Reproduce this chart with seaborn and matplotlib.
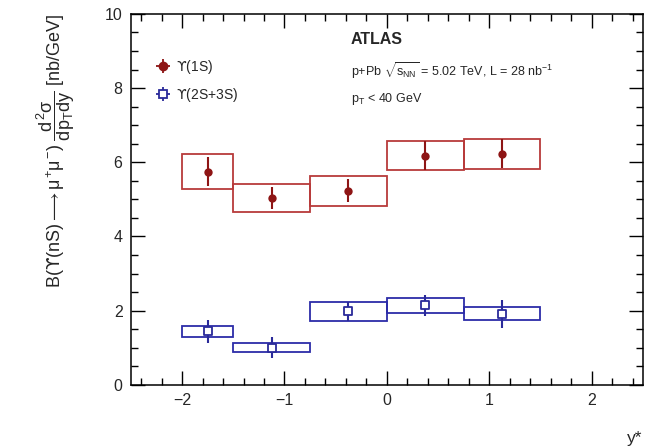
import numpy as np
import pandas as pd
import matplotlib.pyplot as plt
import matplotlib.ticker as ticker
import seaborn as sns

# bin edges in y* and measured values
bin_lo = [-2.0, -1.5, -0.75, 0.0, 0.75]
bin_hi = [-1.5, -0.75, 0.0, 0.75, 1.5]
ystar = [-1.75, -1.125, -0.375, 0.375, 1.125]

ups1s = [5.75, 5.04, 5.23, 6.18, 6.23]
ups1s_stat = [0.40, 0.30, 0.31, 0.38, 0.39]
ups1s_syst = [0.48, 0.38, 0.40, 0.40, 0.40]

ups23s = [1.44, 1.00, 1.98, 2.14, 1.92]
ups23s_stat = [0.32, 0.28, 0.25, 0.28, 0.38]
ups23s_syst = [0.15, 0.125, 0.25, 0.20, 0.17]

df = pd.DataFrame(
    {
        "lo": bin_lo,
        "hi": bin_hi,
        "ystar": ystar,
        "s1": ups1s,
        "s1_stat": ups1s_stat,
        "s1_syst": ups1s_syst,
        "s23": ups23s,
        "s23_stat": ups23s_stat,
        "s23_syst": ups23s_syst,
    }
)
df["width"] = df["hi"] - df["lo"]

sns.set_theme(style="ticks")
plt.rcParams["font.family"] = ["Liberation Sans", "DejaVu Sans"]
plt.rcParams["mathtext.fontset"] = "custom"
plt.rcParams["mathtext.rm"] = "Liberation Sans"
plt.rcParams["mathtext.it"] = "Liberation Sans"
plt.rcParams["mathtext.sf"] = "DejaVu Sans"  # for the upsilon-with-hook glyph

UPS = "$\\mathsf{\u03d2}$"

red_box = "#b83a3a"
red_pt = "#8e1515"
blue_box = "#2c2ca8"
blue_pt = "#2a2a9a"

fig, ax = plt.subplots(figsize=(6.48, 4.48), dpi=100)
fig.subplots_adjust(left=0.202, right=0.992, bottom=0.141, top=0.969)

# systematic boxes
ax.bar(
    df["lo"], 2 * df["s1_syst"], width=df["width"], bottom=df["s1"] - df["s1_syst"],
    align="edge", fill=False, edgecolor=red_box, linewidth=1.3, zorder=2,
)
ax.bar(
    df["lo"], 2 * df["s23_syst"], width=df["width"], bottom=df["s23"] - df["s23_syst"],
    align="edge", fill=False, edgecolor=blue_box, linewidth=1.3, zorder=2,
)

# statistical error bars
ax.errorbar(df["ystar"], df["s1"], yerr=df["s1_stat"], fmt="none",
            ecolor=red_pt, elinewidth=1.5, capsize=0, zorder=3)
ax.errorbar(df["ystar"], df["s23"], yerr=df["s23_stat"], fmt="none",
            ecolor=blue_pt, elinewidth=1.5, capsize=0, zorder=3)

# markers
sns.scatterplot(data=df, x="ystar", y="s1", marker="o", s=36, color=red_pt,
                edgecolor=red_pt, linewidth=0, zorder=4, ax=ax)
sns.scatterplot(data=df, x="ystar", y="s23", marker="s", s=40, color="white",
                edgecolor=blue_pt, linewidth=1.3, zorder=4, ax=ax)

# legend proxies with cross-shaped error bars
h1 = ax.errorbar([np.nan], [np.nan], xerr=[1], yerr=[1], fmt="o", ms=6,
                 color=red_pt, ecolor=red_pt, elinewidth=1.3, capsize=0)
h2 = ax.errorbar([np.nan], [np.nan], xerr=[1], yerr=[1], fmt="s", ms=6,
                 mfc="white", mec=blue_pt, mew=1.3, color=blue_pt,
                 ecolor=blue_pt, elinewidth=1.3, capsize=0)
ax.legend(
    [h1, h2], [UPS + "(1S)", UPS + "(2S+3S)"],
    loc="upper left", bbox_to_anchor=(0.02, 0.915), frameon=False,
    fontsize=10, handlelength=1.3, handletextpad=0.3, labelspacing=0.7,
)

ax.text(0.43, 0.93, "ATLAS", transform=ax.transAxes, fontsize=11.5,
        fontweight="bold", va="center")
ax.text(0.43, 0.848, r"p+Pb $\sqrt{s_{\mathrm{NN}}}$ = 5.02 TeV, L = 28 nb$^{-1}$",
        transform=ax.transAxes, fontsize=9, va="center")
ax.text(0.43, 0.77, r"p$_{\mathrm{T}}$ < 40 GeV", transform=ax.transAxes,
        fontsize=9, va="center")

ax.set_xlim(-2.5, 2.5)
ax.set_ylim(0, 10)
ax.xaxis.set_major_locator(ticker.MultipleLocator(1))
ax.xaxis.set_minor_locator(ticker.MultipleLocator(0.2))
ax.yaxis.set_major_locator(ticker.MultipleLocator(2))
ax.yaxis.set_minor_locator(ticker.MultipleLocator(0.5))
ax.tick_params(which="both", direction="in", top=True, right=True,
               labelsize=11.5, width=1, color="black")
ax.tick_params(which="major", length=10, pad=6)
ax.tick_params(which="minor", length=5)
for sp in ax.spines.values():
    sp.set_linewidth(1.1)
    sp.set_color("black")

ax.set_xlabel("y*", fontsize=12.5, loc="right")
ax.set_ylabel(
    "B(" + UPS + r"(nS)$\longrightarrow\mu^{+}\mu^{-}$) $\dfrac{d^{2}\sigma}{dp_{T}dy}$ [nb/GeV]",
    fontsize=13, loc="top",
)
ax.yaxis.set_label_coords(-0.105, 1.0)
ax.xaxis.set_label_coords(1.0, -0.125)

plt.savefig("out.png", dpi=100)
